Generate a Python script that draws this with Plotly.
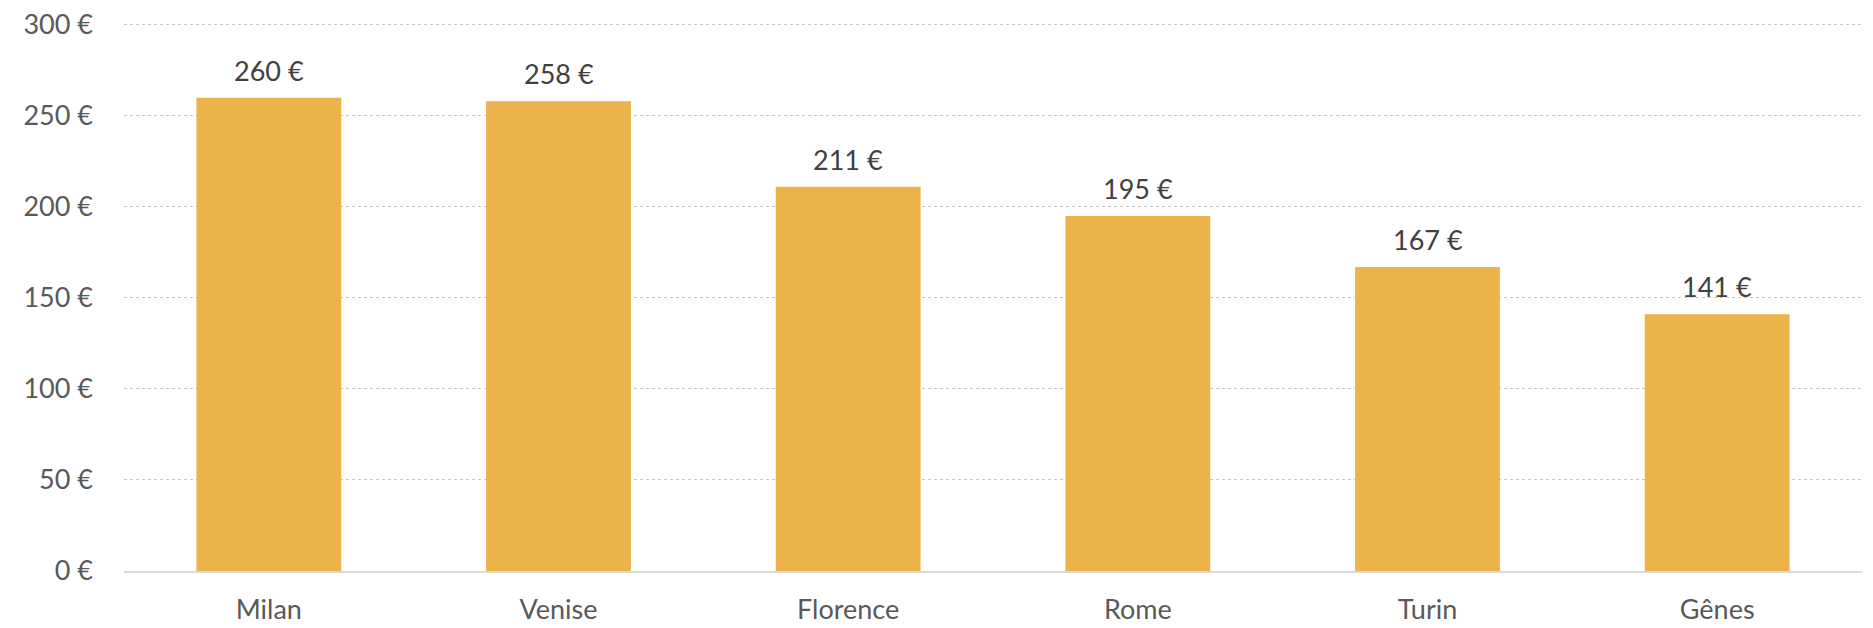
import plotly.graph_objects as go

cities = ["Milan", "Venise", "Florence", "Rome", "Turin", "Gênes"]
prices = [260, 258, 211, 195, 167, 141]
tick_vals = [0, 50, 100, 150, 200, 250, 300]
tick_text = [f"{v} €" for v in tick_vals]

FONT = "Lato, 'Open Sans', sans-serif"
BAR = "#EBB349"

fig = go.Figure()
fig.add_trace(go.Bar(
    x=cities, y=prices,
    marker=dict(color=BAR, line=dict(width=0)),
    width=0.5,
    hoverinfo="skip",
))

for c, p in zip(cities, prices):
    fig.add_annotation(
        x=c, y=p, text=f"{p} €", showarrow=False,
        yanchor="bottom", yshift=9,
        font=dict(family=FONT, size=27, color="#404040"),
    )

fig.update_layout(
    width=1873, height=628,
    margin=dict(l=124, r=11, t=23, b=57),
    paper_bgcolor="white", plot_bgcolor="white",
    showlegend=False,
    bargap=0.5,
    font=dict(family=FONT, size=27, color="#595959"),
)
fig.update_xaxes(
    showgrid=False, ticks="", showline=True, linecolor="#D9D9D9", linewidth=2,
    tickfont=dict(family=FONT, size=27, color="#595959"),
    ticklabelstandoff=14, automargin=False,
)
fig.update_yaxes(
    range=[0, 301], tickvals=tick_vals, ticktext=tick_text,
    showgrid=True, gridcolor="#C8C8C8", griddash="dot", gridwidth=1,
    zeroline=False, showline=False, ticks="",
    tickfont=dict(family=FONT, size=27, color="#595959"),
    ticklabelstandoff=30, automargin=False,
)

fig.write_html("out.html", config={"displayModeBar": False},
               post_script="document.body.style.margin='0';")
